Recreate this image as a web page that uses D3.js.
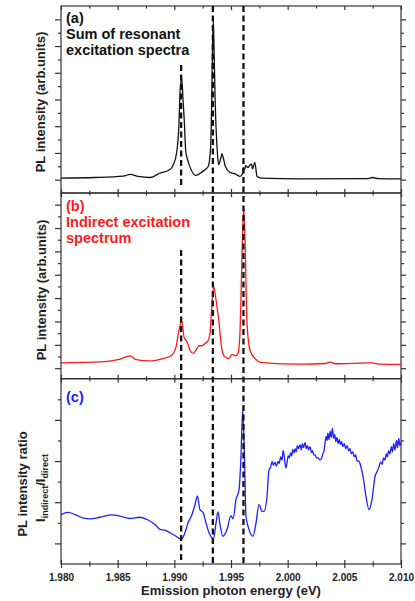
<!DOCTYPE html>
<html>
<head>
<meta charset="utf-8">
<script src="https://cdn.jsdelivr.net/npm/d3@7"></script>
<style>
  body { margin: 0; background: #fff; }
  text { font-family: "Liberation Sans", Arial, sans-serif; font-weight: bold; }
</style>
</head>
<body>
<div id="chart"></div>
<script>
// ---- data ----
var xTicks = [1.980, 1.985, 1.990, 1.995, 2.000, 2.005, 2.010];
var xMinorTicks = [1.9825, 1.9875, 1.9925, 1.9975, 2.0025, 2.0075];
var peakLines = [1.9906, 1.9934, 1.9961];

// (a) sum of resonant excitation spectra
var energyA = [1.9800, 1.9830, 1.9855, 1.9861, 1.9868, 1.9879, 1.9887, 1.9896, 1.9899, 1.9902,
  1.9904, 1.99052, 1.99065, 1.99078, 1.99088, 1.9910, 1.9912, 1.9914, 1.9919, 1.9925,
  1.9930, 1.9932, 1.9933, 1.99337, 1.99344, 1.9935, 1.9936, 1.9938, 1.9939, 1.9941,
  1.9942, 1.9943, 1.9945, 1.9949, 1.9954, 1.9958, 1.9960, 1.9961, 1.9962, 1.9963,
  1.9965, 1.9966, 1.9968, 1.9969, 1.9971, 1.9973, 1.9977, 2.0011, 2.0070, 2.0075,
  2.0080, 2.0100];
var intensityA = [0.06, 0.08, 0.13, 0.2, 0.12, 0.08, 0.24, 0.37, 0.55, 1.0,
  2.0, 3.4, 3.8, 2.9, 2.2, 1.1, 0.7, 0.45, 0.16, 0.31,
  0.5, 1.2, 3.0, 5.0, 5.93, 5.0, 3.0, 1.0, 0.56, 0.8,
  0.97, 0.85, 0.5, 0.27, 0.21, 0.12, 0.2, 0.44, 0.38, 0.52,
  0.45, 0.5, 0.59, 0.4, 0.65, 0.12, 0.06, 0.03, 0.04, 0.08,
  0.04, 0.03];

// (b) indirect excitation spectrum
var energyB = [1.9800, 1.98344, 1.98521, 1.98609, 1.98662, 1.98785, 1.9890, 1.98971, 1.99015, 1.99041,
  1.99065, 1.99085, 1.99112, 1.99138, 1.99165, 1.99191, 1.99218, 1.99244, 1.99271, 1.99297,
  1.99315, 1.99332, 1.99347, 1.99368, 1.99394, 1.99412, 1.99438, 1.99482, 1.99509, 1.99544,
  1.99562, 1.99579, 1.99597, 1.99612, 1.99624, 1.99641, 1.99668, 1.99712, 1.99774, 2.00109,
  2.0033, 2.00374, 2.00418, 2.00744, 2.00815, 2.0100];
var intensityB = [0.23, 0.27, 0.39, 0.53, 0.37, 0.31, 0.41, 0.53, 0.91, 1.63,
  2.03, 1.34, 1.13, 0.77, 0.63, 0.77, 0.96, 0.96, 1.06, 1.17,
  1.49, 2.78, 3.49, 2.92, 1.99, 1.06, 0.53, 0.41, 0.59, 0.53,
  0.63, 1.49, 4.78, 6.85, 5.49, 1.92, 0.77, 0.41, 0.24, 0.17,
  0.2, 0.26, 0.19, 0.23, 0.17, 0.16];

// (c) ratio I_indirect / I_direct
var energyC = [1.9800, 1.98062, 1.98124, 1.98194, 1.98256, 1.98344, 1.9845, 1.98521, 1.98609, 1.98697,
  1.98759, 1.98829, 1.98874, 1.98918, 1.98962, 1.99015, 1.99061, 1.99094, 1.99121, 1.99156,
  1.99182, 1.99204, 1.99226, 1.99253, 1.99279, 1.99306, 1.99346, 1.99368, 1.99385, 1.99403,
  1.99429, 1.99465, 1.9950, 1.99518, 1.99544, 1.99571, 1.99588, 1.99603, 1.99619, 1.99632,
  1.9965, 1.99694, 1.99721, 1.99747, 1.99774, 1.99791, 1.99818, 1.99835, 1.9985, 1.99862,
  1.99875, 1.99888, 1.9990, 1.99915, 1.99925, 1.99938, 1.9995, 1.9996, 1.99968, 1.99978,
  1.99985, 1.99995, 2.00005, 2.00015, 2.00025, 2.00035, 2.00045, 2.00055, 2.00065, 2.00075,
  2.00085, 2.00095, 2.00109, 2.0012, 2.0013, 2.0014, 2.00153, 2.00165, 2.00175, 2.00185,
  2.00197, 2.0021, 2.0022, 2.0023, 2.00241, 2.00255, 2.0027, 2.00285, 2.0030, 2.0031,
  2.00321, 2.0033, 2.0034, 2.00347, 2.00355, 2.00365, 2.00375, 2.00385, 2.00395, 2.00405,
  2.00415, 2.00425, 2.00435, 2.00445, 2.00455, 2.00465, 2.00475, 2.00488, 2.0050, 2.00512,
  2.00525, 2.00538, 2.0055, 2.00562, 2.00575, 2.00588, 2.0060, 2.00612, 2.00629, 2.00645,
  2.00665, 2.00691, 2.00718, 2.00744, 2.00771, 2.0079, 2.00806, 2.0082, 2.00835, 2.00845,
  2.00859, 2.0087, 2.0088, 2.0089, 2.00903, 2.00915, 2.00925, 2.00935, 2.00947, 2.0096,
  2.0097, 2.0098, 2.0099, 2.0100];
var ratioC = [1.40, 1.51, 1.40, 1.24, 1.19, 1.27, 1.39, 1.32, 1.21, 1.27,
  1.16, 0.92, 0.68, 0.64, 0.52, 0.35, 0.19, 0.52, 1.0, 1.40,
  1.88, 2.29, 1.64, 1.51, 1.0, 0.52, 0.23, 1.0, 1.53, 0.92,
  0.35, 0.68, 1.35, 1.19, 2.13, 2.61, 4.22, 6.47, 4.22, 1.32,
  0.84, 0.35, 1.0, 1.88, 1.56, 1.56, 2.29, 3.57, 3.7, 3.98,
  3.8, 3.95, 3.75, 3.98, 3.88, 4.2, 4.05, 4.5, 4.3, 3.85,
  3.66, 3.95, 4.25, 4.15, 4.4, 4.25, 4.55, 4.4, 4.6, 4.45,
  4.75, 4.6, 4.8, 4.55, 4.85, 4.65, 4.9, 4.6, 4.75, 4.55,
  4.7, 4.4, 4.5, 4.3, 4.3, 4.15, 4.15, 4.05, 4.15, 4.35,
  4.5, 4.9, 5.2, 5.0, 5.35, 5.05, 5.45, 5.15, 5.6, 5.1,
  5.3, 4.95, 5.15, 4.85, 5.05, 4.8, 4.95, 4.7, 4.85, 4.6,
  4.75, 4.5, 4.6, 4.35, 4.45, 4.2, 4.3, 4.0, 4.0, 3.75,
  3.25, 2.29, 1.64, 2.13, 3.25, 3.5, 3.73, 3.95, 3.85, 4.15,
  4.05, 4.35, 4.2, 4.5, 4.35, 4.7, 4.45, 4.85, 4.55, 5.0,
  4.65, 5.1, 4.75, 4.9];

// ---- layout ----
var svgWidth = 415;
var svgHeight = 601;
var left = 61, right = 401;

var svg = d3.select("#chart")
  .append("svg")
  .attr("width", svgWidth)
  .attr("height", svgHeight);

var x = d3.scaleLinear().domain([1.980, 2.010]).range([left, right]);

var panels = [
  { top: 6, bottom: 193, domain: [-0.5, 6.5], majors: d3.range(0, 6.01, 1), minors: d3.range(0.5, 6, 1),
    xs: energyA, ys: intensityA, color: "#111" },
  { top: 193, bottom: 378.7, domain: [-0.45, 7.5], majors: d3.range(0, 7.01, 1), minors: d3.range(0.5, 7, 1),
    xs: energyB, ys: intensityB, color: "#ff1a1a" },
  { top: 378.7, bottom: 564, domain: [-1, 8], majors: [0, 2, 4, 6], minors: [1, 3, 5, 7],
    xs: energyC, ys: ratioC, color: "#1f1fff" }
];

panels.forEach(function(p, idx) {
  p.y = d3.scaleLinear().domain(p.domain).range([p.bottom, p.top]);

  var g = svg.append("g");

  // frame
  g.append("rect")
    .attr("x", left).attr("y", p.top)
    .attr("width", right - left).attr("height", p.bottom - p.top)
    .attr("fill", "none").attr("stroke", "#333").attr("stroke-width", 1.2);

  // y ticks, outward on both sides
  [[d3.axisLeft, left], [d3.axisRight, right]].forEach(function(a) {
    g.append("g").attr("transform", `translate(${a[1]},0)`)
      .call(a[0](p.y).tickValues(p.majors).tickSize(a[1] == left ? 6 : 5).tickFormat(""));
    g.append("g").attr("transform", `translate(${a[1]},0)`)
      .call(a[0](p.y).tickValues(p.minors).tickSize(3).tickFormat(""));
  });

  // x ticks, inward at top and bottom of each panel
  g.append("g").attr("transform", `translate(0,${p.top})`)
    .call(d3.axisBottom(x).tickValues(xTicks).tickSize(4).tickFormat(""));
  g.append("g").attr("transform", `translate(0,${p.top})`)
    .call(d3.axisBottom(x).tickValues(xMinorTicks).tickSize(2.5).tickFormat(""));
  g.append("g").attr("transform", `translate(0,${p.bottom})`)
    .call(d3.axisTop(x).tickValues(xTicks).tickSize(4).tickFormat(""));
  g.append("g").attr("transform", `translate(0,${p.bottom})`)
    .call(d3.axisTop(x).tickValues(xMinorTicks).tickSize(2.5).tickFormat(""));

  g.selectAll(".domain").remove();
  g.selectAll(".tick line").attr("stroke", "#333").attr("stroke-width", 1.2);

  // curve
  var line = d3.line()
    .x(function(d) { return x(d[0]); })
    .y(function(d) { return p.y(d[1]); })
    .curve(d3.curveMonotoneX);
  g.append("path")
    .datum(d3.zip(p.xs, p.ys))
    .attr("d", line)
    .attr("fill", "none")
    .attr("stroke", p.color)
    .attr("stroke-width", 1.3);
});

// bottom axis, outward ticks and labels
var bottomY = panels[2].bottom;
svg.append("g").attr("transform", `translate(0,${bottomY})`)
  .call(d3.axisBottom(x).tickValues(xTicks).tickSize(4).tickPadding(6).tickFormat(d3.format(".3f")))
  .call(function(a) {
    a.select(".domain").remove();
    a.selectAll("line").attr("stroke", "#333").attr("stroke-width", 1.2);
    a.selectAll("text").attr("font-size", "10px").attr("fill", "#222")
      .style("font-family", "'Liberation Sans', Arial, sans-serif").style("font-weight", "bold");
  });
svg.append("g").attr("transform", `translate(0,${bottomY})`)
  .call(d3.axisBottom(x).tickValues(xMinorTicks).tickSize(2.5).tickFormat(""))
  .call(function(a) {
    a.select(".domain").remove();
    a.selectAll("line").attr("stroke", "#333").attr("stroke-width", 1.2);
  });

// dashed peak markers
var dashSpans = [[[65, 185], [250, 563]], [[6, 563]], [[6, 563]]];
peakLines.forEach(function(e, i) {
  dashSpans[i].forEach(function(s) {
    svg.append("line")
      .attr("x1", x(e)).attr("x2", x(e))
      .attr("y1", s[0]).attr("y2", s[1])
      .attr("stroke", "#111").attr("stroke-width", 2.3)
      .attr("stroke-dasharray", "6,3.5");
  });
});

// panel captions
var capA = svg.append("text").attr("font-size", "14.5px").attr("fill", "#111");
capA.append("tspan").attr("x", 66).attr("y", 23).text("(a)");
capA.append("tspan").attr("x", 66).attr("y", 39).text("Sum of resonant");
capA.append("tspan").attr("x", 66).attr("y", 55).text("excitation spectra");

var capB = svg.append("text").attr("font-size", "14.5px").attr("fill", "#ff1a1a");
capB.append("tspan").attr("x", 66).attr("y", 211).text("(b)");
capB.append("tspan").attr("x", 66).attr("y", 227).text("Indirect excitation");
capB.append("tspan").attr("x", 66).attr("y", 243).text("spectrum");

svg.append("text").attr("x", 66).attr("y", 402)
  .attr("font-size", "14.5px").attr("fill", "#1f1fff").text("(c)");

// y axis titles
svg.append("text")
  .attr("transform", "translate(45,102) rotate(-90)")
  .attr("text-anchor", "middle").attr("font-size", "13px").attr("fill", "#222")
  .text("PL intensity (arb.units)");
svg.append("text")
  .attr("transform", "translate(46,290) rotate(-90)")
  .attr("text-anchor", "middle").attr("font-size", "13px").attr("fill", "#222")
  .text("PL intensity (arb.units)");
svg.append("text")
  .attr("transform", "translate(27,484) rotate(-90)")
  .attr("text-anchor", "middle").attr("font-size", "13px").attr("fill", "#222")
  .text("PL intensity ratio");
var ratioLabel = svg.append("text")
  .attr("transform", "translate(45,488) rotate(-90)")
  .attr("text-anchor", "middle").attr("font-size", "13px").attr("fill", "#222");
ratioLabel.append("tspan").text("I");
ratioLabel.append("tspan").attr("font-size", "9px").attr("dy", 3).text("indirect");
ratioLabel.append("tspan").attr("dy", -3).text("/I");
ratioLabel.append("tspan").attr("font-size", "9px").attr("dy", 3).text("direct");

// x axis title
svg.append("text")
  .attr("x", (left + right) / 2).attr("y", 595)
  .attr("text-anchor", "middle").attr("font-size", "13px").attr("fill", "#222")
  .text("Emission photon energy (eV)");
</script>
</body>
</html>
